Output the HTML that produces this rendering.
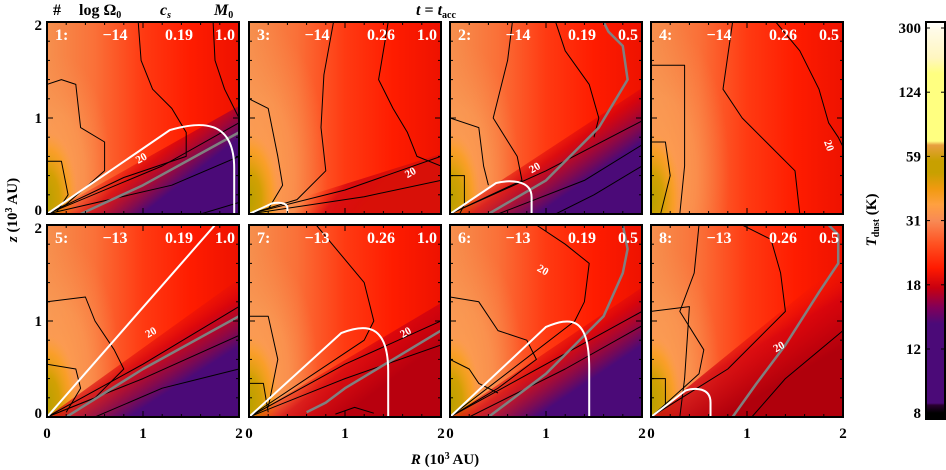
<!DOCTYPE html>
<html><head><meta charset="utf-8">
<style>
html,body{margin:0;padding:0;background:#fff;}
svg{display:block;font-family:"Liberation Serif",serif;}
</style></head>
<body>
<svg id="fig" width="946" height="470" viewBox="0 0 946 470" xmlns="http://www.w3.org/2000/svg">
<defs id="defs"></defs>
<g id="panels"></g>
<g font-weight="bold" font-size="16" fill="#000">
<text x="53" y="15">#</text>
<text x="79" y="15">log Ω<tspan font-size="10" dy="3">0</tspan></text>
<text x="160" y="15" font-style="italic">c<tspan font-size="10" dy="3">s</tspan></text>
<text x="214" y="15" font-style="italic">M<tspan font-size="10" dy="3" font-style="normal">0</tspan></text>
<text x="416" y="15"><tspan font-style="italic">t</tspan> = <tspan font-style="italic">t</tspan><tspan font-size="10" dy="3">acc</tspan></text>
</g>
<text transform="translate(17,210) rotate(-90)" text-anchor="middle" font-size="15" font-weight="bold"><tspan font-style="italic">z</tspan> (10<tspan font-size="10" dy="-5">3</tspan><tspan dy="5"> AU)</tspan></text>
<text x="445" y="464" text-anchor="middle" font-size="15" font-weight="bold"><tspan font-style="italic">R</tspan> (10<tspan font-size="10" dy="-5">3</tspan><tspan dy="5"> AU)</tspan></text>
<g id="cbar"></g>
<text transform="translate(876,220) rotate(-90)" text-anchor="middle" font-size="15" font-weight="bold"><tspan font-style="italic">T</tspan><tspan font-size="10" dy="3">dust</tspan><tspan dy="-3"> (K)</tspan></text>
</svg>
<script>
// ---- data ----
const panelIds = ["1","3","2","4","5","7","6","8"];
const logOmega = ["−14","−14","−14","−14","−13","−13","−13","−13"];
const soundSpeed = ["0.19","0.26","0.19","0.26","0.19","0.26","0.19","0.26"];
const coreMass = ["1.0","1.0","0.5","0.5","1.0","1.0","0.5","0.5"];
const whitePeakR = [1.6,0.3,0.6,0,1.75,1.2,1.25,0.45];
const whitePeakZ = [0.95,0.12,0.35,0,2.0,0.95,1.02,0.3];
const whiteEndR = [1.95,0.4,0.85,0,0,1.45,1.45,0.62];
const whiteType = ["cap","cap","cap","none","line","cap","cap","cap"];
const wedgeTopZ = [0.9,0.5,1.05,0,1.15,0.95,1.08,1.3];
const wedgeColor = ["#4b0a78","#d81008","#4b0a78","none","#4b0a78","#b8000e","#4b0a78","#b0000c"];
const glowWidth = [0.55,0.7,0.6,0.7,0.65,0.6,0.65,0.6];
const grayLines = [
 [[0.35,0],[1,0.3],[2,0.85]],
 [],
 [[0.4,0],[1,0.35],[1.55,0.9],[1.85,1.4],[1.8,1.75],[1.65,1.9],[1.6,2]],
 [],
 [[0.2,0],[1,0.5],[2,1.05]],
 [[0.6,0.05],[0.8,0.15],[1,0.3],[1.5,0.6],[2,0.9]],
 [[0.4,0],[1,0.45],[1.6,1.05],[1.8,1.5],[1.85,1.75],[1.8,2]],
 [[0.85,0],[1.1,0.35],[1.4,0.75],[1.75,1.3],[1.95,1.6],[1.95,1.9],[1.85,2]]
];
const contours = [
 [[[0.95,2],[0.98,1.6],[1.1,1.3],[1.3,1.1],[1.45,0.85],[1.45,0.6],[0.8,0.38],[0,0]],
  [[1.73,2],[1.75,1.6],[1.85,1.3],[2,1.0]],
  [[0,1.35],[0.15,1.4],[0.3,1.35],[0.35,0.9],[0.6,0.75],[0.6,0.45],[0.2,0.1],[0,0]],
  [[0,0.55],[0.15,0.55],[0.22,0.2],[0.1,0.02]],
  [[0,0],[1.2,0.5],[2,0.95]],
  [[0,0],[1.3,0.3],[2,0.6]],
  [[1.6,0],[2,0.12]]],
 [[[0.88,2],[0.78,1.45],[0.75,0.9],[0.8,0.45],[0.5,0.15],[0,0]],
  [[1.45,2],[1.35,1.4],[1.5,1.1],[1.65,0.85],[1.75,0.6],[2,0.5]],
  [[0,1.2],[0.2,1.1],[0.3,0.6],[0.35,0.3],[0.2,0.05]],
  [[0,0],[1,0.25],[2,0.6]],
  [[0,0],[1.2,0.18],[2,0.35]]],
 [[[0.65,2],[0.6,1.6],[0.45,1.0],[0.7,0.6],[0.75,0.35],[0,0]],
  [[1.1,2],[1.2,1.7],[1.45,1.35],[1.55,1.0],[1.5,0.8]],
  [[0,1.0],[0.3,0.9],[0.35,0.5],[0.4,0.3]],
  [[0,0.4],[0.15,0.4],[0.15,0.1],[0.1,0]],
  [[0,0],[1,0.45],[2,0.97]],
  [[0.5,0],[1.4,0.35],[2,0.72]],
  [[1.1,0],[1.5,0.2],[2,0.5]]],
 [[[0.85,2],[0.75,1.3],[0.95,1.0],[1.2,0.75],[1.5,0.45],[1.55,0]],
  [[1.3,2],[1.55,1.7],[1.75,1.3],[1.85,0.95],[1.95,0.8],[2,0.7]],
  [[0,1.55],[0.35,1.55],[0.35,0.5],[0.3,0]],
  [[0,0.75],[0.15,0.75],[0.2,0.4],[0.1,0]]],
 [[[0,1.2],[0.4,1.25],[0.5,1.0],[0.7,0.7],[0.8,0.5],[0.5,0.2],[0,0]],
  [[0,0.55],[0.3,0.5],[0.35,0.3],[0.2,0.05]],
  [[0,0],[1,0.55],[2,1.15]],
  [[0,0],[1,0.4],[2,0.85]],
  [[0.5,0],[1.2,0.3],[2,0.5]]],
 [[[0.7,2],[0.95,1.7],[1.2,1.4],[1.3,1.0],[1.2,0.8],[0,0]],
  [[0,1.05],[0.2,1.05],[0.3,0.6],[0.2,0.1]],
  [[0,0.35],[0.15,0.35],[0.2,0.05]],
  [[0,0],[1,0.55],[2,1.0]],
  [[0,0],[1,0.4],[2,0.75]],
  [[0.9,0.03],[1.1,0.1],[1.3,0.04]]],
 [[[0.9,2],[1.2,1.8],[1.45,1.6],[1.4,1.2],[1.3,1.0],[0,0]],
  [[0,1.25],[0.3,1.2],[0.5,0.9],[0.8,0.8],[0.9,0.6],[0.5,0.3],[0,0]],
  [[0,0.6],[0.2,0.5],[0.3,0.35],[0.5,0.25]],
  [[0,0],[1,0.55],[2,1.1]],
  [[0.2,0],[1.2,0.5],[2,0.95]]],
 [[[0.5,2],[0.45,1.5],[0.3,1.1],[0.55,0.7],[0.5,0.45],[0,0]],
  [[0.95,2],[1.25,1.85],[1.35,1.5],[1.4,1.1],[0.8,0.5],[0,0]],
  [[0,1.1],[0.4,1.15],[0.35,0.4],[0.3,0]],
  [[0,0.4],[0.15,0.4],[0.15,0.1]],
  [[1.05,0],[1.4,0.4],[2,0.9]]]
];
const label20R = [1.0,1.7,0.9,1.82,1.1,1.65,0.95,1.35];
const label20Z = [0.55,0.4,0.45,0.7,0.85,0.85,1.5,0.7];
const label20Rot = [-30,-30,-30,70,-30,-30,30,-30];
const xTicks = [0,1,2];
const xTickLabels = ["0","1","2"];
const zTicks = [0,1,2];
const zTickLabels = ["0","1","2"];
const cbarLabels = ["300","124","59","31","18","12","8"];
const cbarStops = [[0,"#ffffff"],[0.02,"#fffbe8"],[0.09,"#fff6c0"],[0.13,"#ffff80"],[0.3,"#ffff80"],[0.31,"#e8a040"],[0.35,"#c8a000"],[0.38,"#c8a000"],[0.42,"#f09a10"],[0.46,"#ffa040"],[0.5,"#f88a55"],[0.56,"#ff5020"],[0.62,"#ff1a00"],[0.67,"#c80010"],[0.72,"#80005a"],[0.76,"#4b0a78"],[0.96,"#4b0a78"],[0.965,"#2a0030"],[0.985,"#000000"],[1,"#000000"]];

// ---- layout ----
const colX = [47,249,450,651];
const rowY = [22,225];
const PW = 192, PH = 192;
const NS = "http://www.w3.org/2000/svg";
const defs = document.getElementById('defs');
const panelsG = document.getElementById('panels');
function mk(tag, attrs, parent){const e=document.createElementNS(NS,tag);for(const k in attrs)e.setAttribute(k,attrs[k]);if(parent)parent.appendChild(e);return e;}
function stops(g, list){list.forEach(s=>mk('stop',{offset:s[0],'stop-color':s[1],'stop-opacity':s[2]===undefined?1:s[2]},g));}

for(let i=0;i<8;i++){
  const x0=colX[i%4], y0=rowY[Math.floor(i/4)];
  const sx=r=>x0+r*PW/2, sy=z=>y0+PH-z*PH/2;
  const pts=a=>a.map(p=>sx(p[0]).toFixed(1)+','+sy(p[1]).toFixed(1)).join(' ');
  const g=mk('g',{},panelsG);
  
  
  const cp=mk('clipPath',{id:'cp'+i},defs);
  mk('rect',{x:x0,y:y0,width:PW,height:PH},cp);
  const inner=mk('g',{'clip-path':'url(#cp'+i+')'},g);
  const lg=mk('linearGradient',{id:'bg'+i,x1:0,y1:0,x2:1,y2:0},defs);
  stops(lg,[[0,"#f6904e"],[0.25,"#fa7038"],[0.5,"#ff3a12"],[0.75,"#ff1c00"],[1,"#ee1200"]]);
  const base=mk('rect',{x:x0,y:y0,width:PW,height:PH,fill:'url(#bg'+i+')'},inner);
  
  
  const rg=mk('radialGradient',{id:'gl'+i,gradientUnits:'userSpaceOnUse',cx:sx(0.12),cy:sy(0.4),r:glowWidth[i]*PW/2,gradientTransform:`translate(${sx(0.12)},${sy(0.4)}) scale(1,2.3) translate(${-sx(0.12)},${-sy(0.4)})`},defs);
  stops(rg,[[0,"#ffa050",0.95],[0.5,"#faa058",0.6],[1,"#f89050",0]]);
  mk('rect',{x:x0,y:y0,width:PW,height:PH,fill:'url(#gl'+i+')'},inner);
  const og=mk('radialGradient',{id:'ol'+i,gradientUnits:'userSpaceOnUse',cx:sx(0),cy:sy(0.15),r:PW*0.16,gradientTransform:`translate(${sx(0)},${sy(0.15)}) scale(1,2.2) translate(${-sx(0)},${-sy(0.15)})`},defs);
  stops(og,[[0,"#b8a000",1],[0.4,"#d0a000",0.95],[0.75,"#f8a010",0.6],[1,"#f8a030",0]]);
  mk('rect',{x:x0,y:y0,width:PW,height:PH,fill:'url(#ol'+i+')'},inner);
  if(wedgeColor[i]!=="none"){
    const wt=wedgeTopZ[i];
    const wg=mk('linearGradient',{id:'wd'+i,gradientUnits:'userSpaceOnUse',x1:sx(0.75),y1:sy(wt*0.75),x2:sx(1.4),y2:sy(-0.15)},defs);
    stops(wg,[[0,"#ff2000",0],[0.3,"#d00010",0.75],[0.65,wedgeColor[i],1],[1,wedgeColor[i],1]]);
    const w=mk('polygon',{points:pts([[0,0],[2,wt*1.25],[2,0]]),fill:'url(#wd'+i+')'},inner);
    
    
  }
  contours[i].forEach(c=>{
    const l=mk('polyline',{points:pts(c),fill:'none',stroke:'#000','stroke-width':1,'stroke-linejoin':'round'},inner);
    
    
  });
  if(grayLines[i].length){
    const gl=mk('polyline',{points:pts(grayLines[i]),fill:'none',stroke:'#808080','stroke-width':2.5,'stroke-linejoin':'round'},inner);
    
    
  }
  if(whiteType[i]!=="none"){
    let d;
    const Rp=whitePeakR[i], zp=whitePeakZ[i], Re=whiteEndR[i];
    if(whiteType[i]==="line"){ d=`M${sx(0)},${sy(0)} L${sx(Rp)},${sy(zp)}`; }
    else{
      d=`M${sx(0)},${sy(0)} L${sx(0.8*Rp)},${sy(0.92*zp)} C${sx(Rp)},${sy(1.02*zp)} ${sx(Re)},${sy(1.04*zp)} ${sx(Re)},${sy(0.5*zp)} L${sx(Re)},${sy(0)}`;
    }
    const wc=mk('path',{d:d,fill:'none',stroke:'#fff','stroke-width':2},inner);
    
    
  }
  const t20=mk('text',{x:sx(label20R[i]),y:sy(label20Z[i]),fill:'#fff','font-size':11,'font-weight':'bold','text-anchor':'middle',transform:`rotate(${label20Rot[i]},${sx(label20R[i])},${sy(label20Z[i])})`},inner);
  t20.textContent="20";
  
  
  for(let k=0;k<=10;k++){
    const v=k*0.2, len=(k%5===0)?6:3;
    mk('line',{x1:sx(v),y1:y0+PH,x2:sx(v),y2:y0+PH-len,stroke:'#000','stroke-width':1},g);
    mk('line',{x1:sx(v),y1:y0,x2:sx(v),y2:y0+len,stroke:'#000','stroke-width':1},g);
    mk('line',{x1:x0,y1:sy(v),x2:x0+len,y2:sy(v),stroke:'#000','stroke-width':1},g);
    mk('line',{x1:x0+PW,y1:sy(v),x2:x0+PW-len,y2:sy(v),stroke:'#000','stroke-width':1},g);
  }
  const fr=mk('rect',{x:x0,y:y0,width:PW,height:PH,fill:'none',stroke:'#000','stroke-width':2},g);
  
  
  const lab=[[panelIds[i]+":",x0+8,'start'],[logOmega[i],x0+68,'middle'],[soundSpeed[i],x0+132,'middle'],[coreMass[i],x0+PW-4,'end']];
  lab.forEach((L,j)=>{
    const t=mk('text',{x:L[1],y:y0+18,fill:'#fff','font-size':16,'font-weight':'bold','text-anchor':L[2]},g);
    t.textContent=L[0];
    
    
  });
  if(i>=4){
    xTicks.forEach((v,k)=>{
      const t=mk('text',{x:sx(v),y:y0+PH+21,'font-size':15,'font-weight':'bold','text-anchor':'middle'},g);
      t.textContent=xTickLabels[k];
      
      
    });
  }
  if(i%4===0){
    zTicks.forEach((v,k)=>{
      const t=mk('text',{x:x0-5,y:sy(v)+(v===2?8:v===0?1:5),'font-size':15,'font-weight':'bold','text-anchor':'end'},g);
      t.textContent=zTickLabels[k];
      
      
    });
  }
}
const cb=document.getElementById('cbar');
const CX=926, CY=22, CW=19, CH=397;
const cg=mk('linearGradient',{id:'cbg',x1:0,y1:0,x2:0,y2:1},defs);
stops(cg,cbarStops);
const cr=mk('rect',{x:CX,y:CY,width:CW,height:CH,fill:'url(#cbg)',stroke:'#000','stroke-width':2},cb);


cbarLabels.forEach((L,k)=>{
  const y=28+k*64.2;
  mk('line',{x1:CX,y1:y,x2:CX+4,y2:y,stroke:'#000'},cb);
  mk('line',{x1:CX+CW,y1:y,x2:CX+CW-4,y2:y,stroke:'#000'},cb);
  const t=mk('text',{x:CX-5,y:y+5,'font-size':15,'font-weight':'bold','text-anchor':'end'},cb);
  t.textContent=L;
  
  
});
</script>
</body></html>
